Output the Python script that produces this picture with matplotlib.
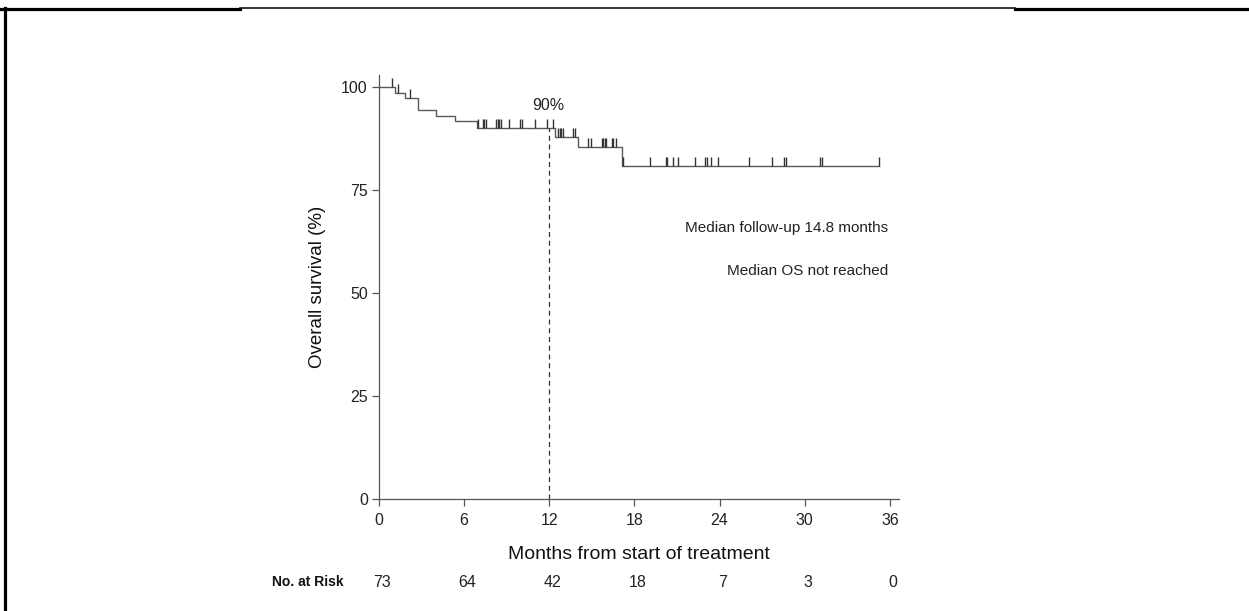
"""
Kaplan-Meier overall survival figure with number-at-risk row.
Output: out.png
"""

import matplotlib.pyplot as plt
from matplotlib.lines import Line2D
import numpy as np

plt.rcParams['font.family'] = ['Liberation Sans', 'DejaVu Sans']

# Step curve: time of each drop (months) and survival after it (%)
step_times = [0, 1.13, 1.83, 2.78, 4.05, 5.36, 6.93, 12.38, 14.05, 17.15]
step_surv = [100, 98.6, 97.3, 94.5, 93.1, 91.7, 90.2, 88.0, 85.4, 80.8]
last_time = 35.2

# Censored observations (months)
censor_times = [0.9, 1.36, 2.18, 6.98, 7.35, 7.42, 7.51, 8.28, 8.37, 8.47,
                8.63, 9.17, 9.92, 10.1, 10.99, 11.86, 12.28, 12.6, 12.72,
                12.85, 12.97, 13.67, 13.8, 14.7, 14.96, 15.7, 15.8, 15.9,
                16.0, 16.4, 16.5, 16.7, 17.2, 19.1, 20.2, 20.3, 20.7, 21.1,
                22.25, 22.97, 23.1, 23.4, 23.9, 26.07, 27.7, 28.5, 28.7,
                31.08, 31.2, 35.2]

# Number at risk row
risk_times = [0, 6, 12, 18, 24, 30, 36]
at_risk = [73, 64, 42, 18, 7, 3, 0]

landmark = 12
landmark_surv = 90.2

curve_col = '#5a5a5a'

fig = plt.figure(figsize=(12.49, 6.11), dpi=100)
ax = fig.add_axes([0.3034, 0.1833, 0.4163, 0.694])

# KM curve
xs = list(step_times) + [last_time]
ys = list(step_surv) + [step_surv[-1]]
ax.step(xs, ys, where='post', color=curve_col, lw=1.0)

# censor ticks sit on the curve and point upward
idx = np.searchsorted(step_times, censor_times, side='right') - 1
c_surv = np.array(step_surv)[idx]
ax.vlines(censor_times, c_surv, c_surv + 2.2, color='#333333', lw=1.0)

# 12-month landmark
ax.plot([landmark, landmark], [0, landmark_surv], ls=(0, (4, 3)),
        color='#333333', lw=0.9)
ax.text(landmark - 0.05, 94.6, '90%', ha='center', va='baseline',
        fontsize=11.5, color='#222222')

ax.text(35.9, 65.8, 'Median follow-up 14.8 months', ha='right', va='center',
        fontsize=11, color='#222222')
ax.text(35.9, 55.3, 'Median OS not reached', ha='right', va='center',
        fontsize=11, color='#222222')

# axes
ax.set_xlim(0, 36.63)
ax.set_ylim(0, 103)
ax.set_xticks(risk_times)
ax.set_yticks([0, 25, 50, 75, 100])
ax.spines['top'].set_visible(False)
ax.spines['right'].set_visible(False)
for s in ['left', 'bottom']:
    ax.spines[s].set_color('#555555')
    ax.spines[s].set_linewidth(0.9)
ax.tick_params(direction='out', length=5, width=0.9, color='#555555',
               labelsize=11.5, labelcolor='#222222', pad=3)
ax.tick_params(axis='x', pad=5)
ax.set_xlabel('Months from start of treatment', fontsize=14, labelpad=13,
              color='#111111')
ax.set_ylabel('Overall survival (%)', fontsize=13.5, labelpad=11,
              color='#111111')

# number at risk row
trans = ax.get_xaxis_transform()
for t, n in zip(risk_times, at_risk):
    ax.text(t + 0.2, -0.196, str(n), transform=trans, ha='center',
            va='center', fontsize=11.5, color='#222222')
ax.text(-2.5, -0.196, 'No. at Risk', transform=trans, ha='right',
        va='center', fontsize=10, fontweight='bold', color='#111111')

# page frame lines
W, H = 1249, 611
fig.add_artist(Line2D([5 / W, 5 / W], [0, 1 - 8 / H], color='black', lw=2.3))
fig.add_artist(Line2D([0, 240 / W], [1 - 9 / H, 1 - 9 / H], color='black', lw=2.3))
fig.add_artist(Line2D([240 / W, 1015 / W], [1 - 8.3 / H, 1 - 8.3 / H],
                      color='black', lw=1.1))
fig.add_artist(Line2D([1015 / W, 1], [1 - 9 / H, 1 - 9 / H], color='black', lw=2.3))

fig.savefig('out.png', dpi=100)
